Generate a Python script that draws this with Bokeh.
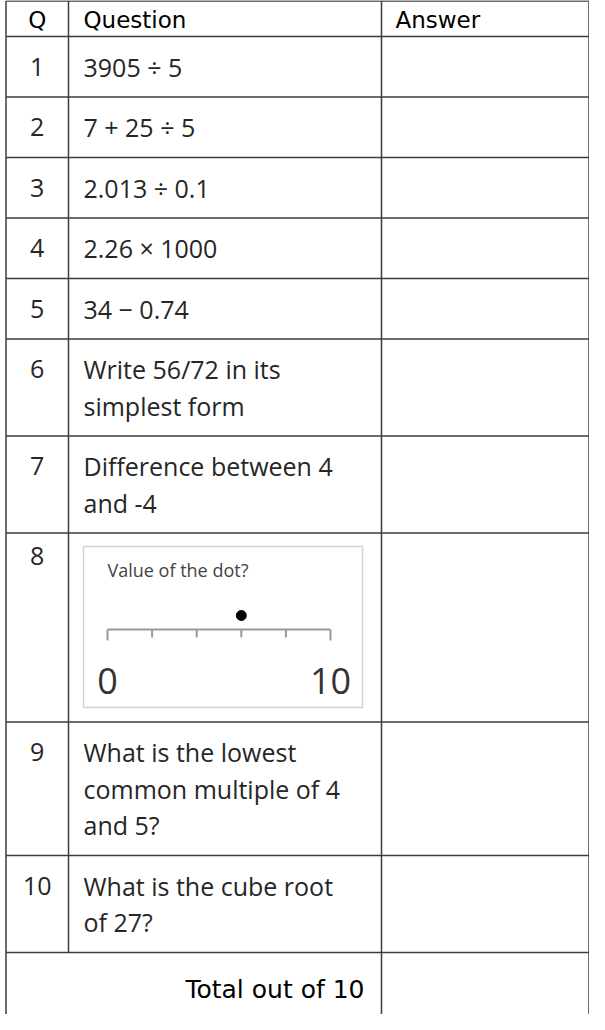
from bokeh.plotting import figure
from bokeh.models import Range1d
from bokeh.embed import file_html
from bokeh.resources import INLINE
from bokeh.core.properties import value

# ---------------- data ----------------
headers = ["Q", "Question", "Answer"]
q_numbers = ["1", "2", "3", "4", "5", "6", "7", "8", "9", "10"]
question_lines = [
    ["3905 ÷ 5"],
    ["7 + 25 ÷ 5"],
    ["2.013 ÷ 0.1"],
    ["2.26 × 1000"],
    ["34 − 0.74"],
    ["Write 56/72 in its", "simplest form"],
    ["Difference between 4", "and -4"],
    None,  # number-line picture
    ["What is the lowest", "common multiple of 4", "and 5?"],
    ["What is the cube root", "of 27?"],
]
total_label = "Total out of 10"
numberline_title = "Value of the dot?"
numberline_min = 0
numberline_max = 10
numberline_step = 2
numberline_labels = ["0", "10"]
dot_value = 6

# ---------------- layout / style ----------------
W, H = 589, 1014
X_LEFT, X_Q, X_QA, X_RIGHT = 13.5, 76, 389, 596.5
Y_TOP, Y_HEAD = 8.6, 44
ROW_BASE, LINE_STEP, IMAGE_ROW = 60.5, 36.5, 189
FIRST_LINE = 30
LINE_COLOR = "#3c3c3c"
TEXT_COLOR = "#262626"
BODY_FONT = value("Open Sans")
HEAD_FONT = value("DejaVu Sans")

p = figure(width=W, height=H, x_range=Range1d(8, 8 + W), y_range=Range1d(8 + H, 8),
           output_backend="svg", toolbar_location=None, min_border=0,
           x_axis_location=None, y_axis_location=None)
p.grid.visible = False
p.outline_line_color = None
p.background_fill_color = "white"
p.border_fill_color = "white"

# row boundaries
row_tops, row_bottoms = [], []
y = Y_HEAD
for lines in question_lines:
    h = IMAGE_ROW if lines is None else ROW_BASE + (len(lines) - 1) * LINE_STEP
    row_tops.append(y)
    y += h
    row_bottoms.append(y)
last_row_bottom = y
y_end = 8 + H

# horizontal rules
hy = [Y_TOP, Y_HEAD] + row_bottoms
p.segment(x0=[X_LEFT] * len(hy), x1=[X_RIGHT] * len(hy), y0=hy, y1=hy,
          line_color=LINE_COLOR, line_width=1.5)
# vertical rules
p.segment(x0=[X_LEFT, X_Q, X_QA, X_RIGHT], x1=[X_LEFT, X_Q, X_QA, X_RIGHT],
          y0=[Y_TOP] * 4, y1=[y_end, last_row_bottom, y_end, y_end],
          line_color=LINE_COLOR, line_width=1.5)

# header
hc = (Y_TOP + Y_HEAD) / 2 + 1
p.text(x=[(X_LEFT + X_Q) / 2], y=[hc], text=[headers[0]], text_font=HEAD_FONT,
       text_font_size="23px", text_align="center", text_baseline="middle", text_color="black")
p.text(x=[X_Q + 15, X_QA + 14], y=[hc, hc], text=headers[1:], text_font=HEAD_FONT,
       text_font_size="23px", text_align="left", text_baseline="middle", text_color="black")

# question numbers and texts
nx, ny, tx, ty, tt = [], [], [], [], []
for i, lines in enumerate(question_lines):
    top = row_tops[i]
    if lines is None:
        nx.append((X_LEFT + X_Q) / 2); ny.append(top + 23)
        continue
    nx.append((X_LEFT + X_Q) / 2); ny.append(top + FIRST_LINE)
    for j, ln in enumerate(lines):
        tx.append(X_Q + 15)
        ty.append(top + FIRST_LINE + j * LINE_STEP)
        tt.append(ln)
p.text(x=nx, y=ny, text=q_numbers, text_font=BODY_FONT, text_font_size="25px",
       text_align="center", text_baseline="middle", text_color=TEXT_COLOR)
p.text(x=tx, y=ty, text=tt, text_font=BODY_FONT, text_font_size="25px",
       text_align="left", text_baseline="middle", text_color=TEXT_COLOR)

# total row
p.text(x=[X_QA - 17], y=[last_row_bottom + 37], text=[total_label], text_font=HEAD_FONT,
       text_font_size="25px", text_align="right", text_baseline="middle", text_color="black")

# number-line picture in row 8
img_row = question_lines.index(None)
rt = row_tops[img_row]
box_l, box_r, box_t, box_b = X_Q + 15, 370, rt + 13.5, rt + 174.5
p.quad(left=[box_l], right=[box_r], top=[box_t], bottom=[box_b],
       fill_color="white", line_color="#d2d2d2", line_width=1.5)
p.text(x=[box_l + 24], y=[box_t + 23], text=[numberline_title], text_font=BODY_FONT,
       text_font_size="18px", text_align="left", text_baseline="middle", text_color="#444444")

nl_x0, nl_x1 = box_l + 24, box_r - 32
nl_y = box_t + 83


def nl(v):
    return nl_x0 + (v - numberline_min) / (numberline_max - numberline_min) * (nl_x1 - nl_x0)


p.segment(x0=[nl(numberline_min)], x1=[nl(numberline_max)], y0=[nl_y], y1=[nl_y],
          line_color="#9a9a9a", line_width=2)
tick_vals = list(range(numberline_min, numberline_max + 1, numberline_step))
p.segment(x0=[nl(v) for v in tick_vals], x1=[nl(v) for v in tick_vals],
          y0=[nl_y] * len(tick_vals),
          y1=[nl_y + (11 if v in (numberline_min, numberline_max) else 8) for v in tick_vals],
          line_color="#9a9a9a", line_width=2)
p.scatter(x=[nl(dot_value)], y=[nl_y - 14], size=10, color="black")
p.text(x=[nl(numberline_min), nl(numberline_max)], y=[nl_y + 51, nl_y + 51],
       text=numberline_labels, text_font=BODY_FONT, text_font_size="36px",
       text_align="center", text_baseline="middle", text_color="#333333")

open("out.html", "w").write(file_html(p, INLINE))
